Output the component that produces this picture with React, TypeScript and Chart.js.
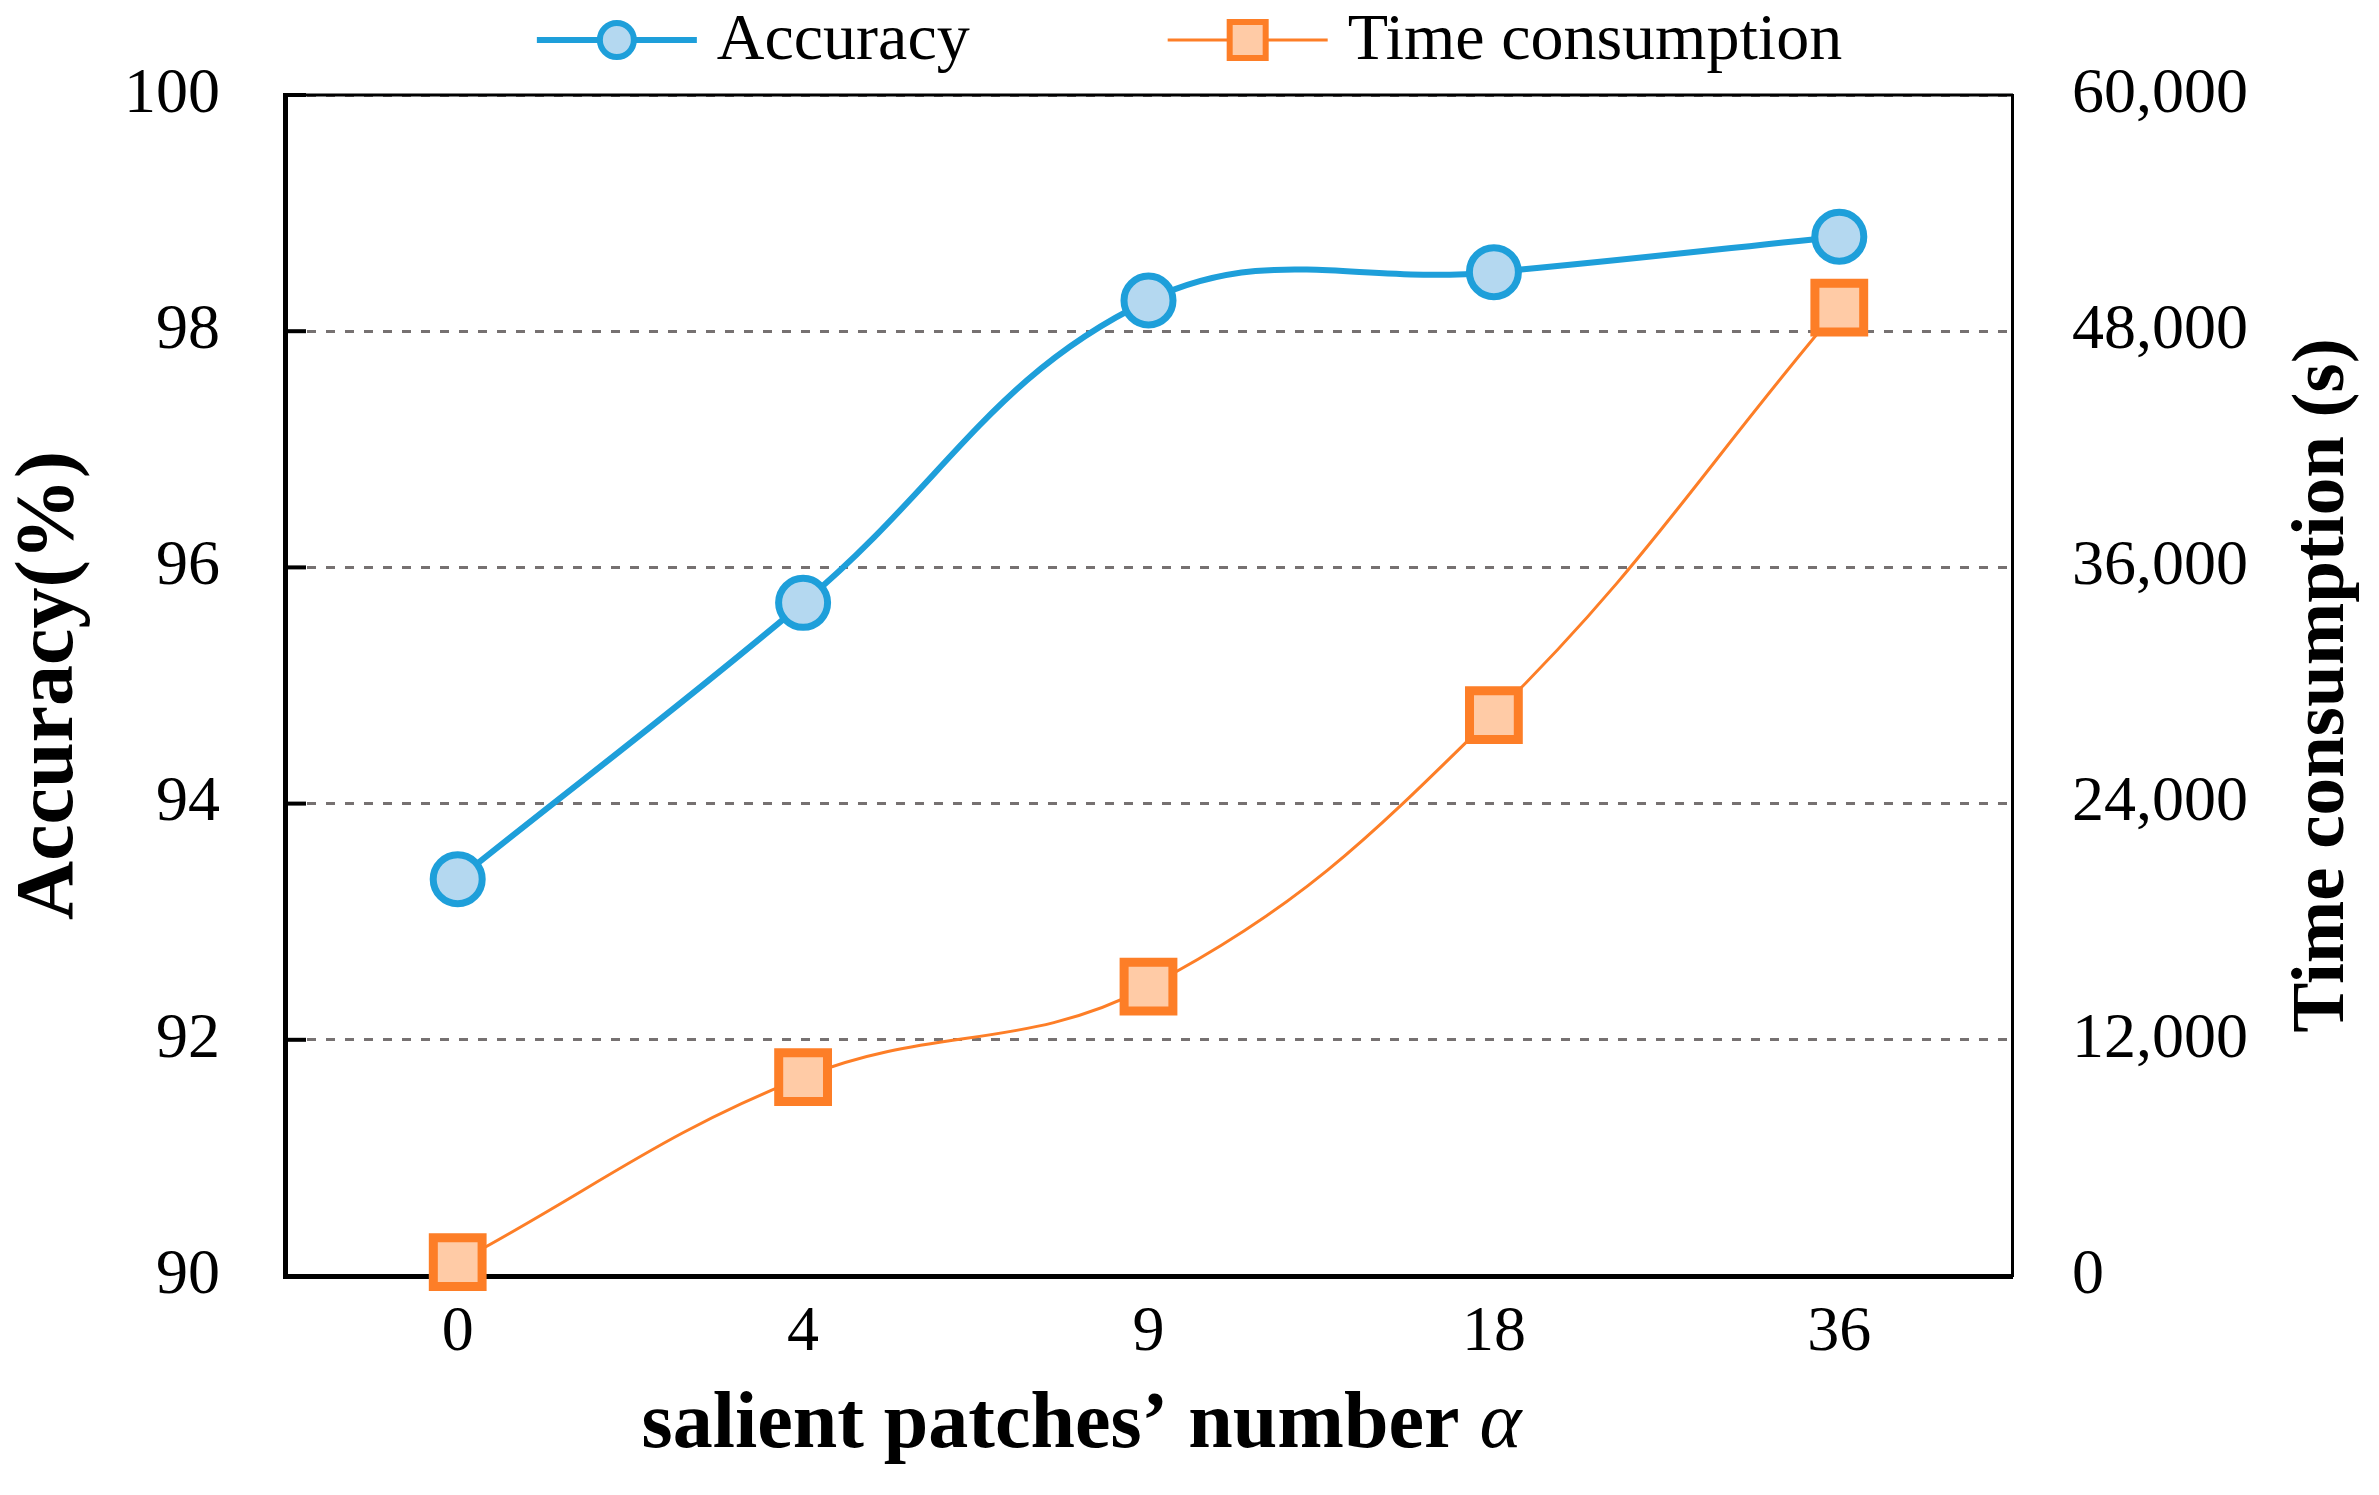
import React, { useEffect, useRef } from 'react';
import { Chart, registerables } from 'chart.js';

Chart.register(...registerables);

// ---- data ----
const categories = ['0', '4', '9', '18', '36'];
const accuracy = [93.36, 95.7, 98.26, 98.5, 98.8];
const timeConsumption = [700, 10100, 14700, 28500, 49200];
const accuracyTicks = [90, 92, 94, 96, 98, 100];
const timeTicks = [0, 12000, 24000, 36000, 48000, 60000];

const seriesNames = ['Accuracy', 'Time consumption'];
const xTitleMain = 'salient patches\u2019 number ';
const xTitleSymbol = '\u03B1';
const yTitle = 'Accuracy(%)';
const y1Title = 'Time consumption (s)';

const W = 2379;
const H = 1495;
const SERIF = '"Liberation Serif", "Times New Roman", Times, serif';

const BLUE = '#1E9FDA';
const BLUE_FILL = '#B4D8F0';
const ORANGE = '#FD7E27';
const ORANGE_FILL = '#FFCBA6';

const decorPlugin = {
  id: 'decor',
  beforeDatasetsDraw(chart: any) {
    const { ctx, chartArea } = chart;
    const ys = chart.scales.y;
    ctx.save();
    // top frame
    ctx.strokeStyle = '#000';
    ctx.lineWidth = 3;
    ctx.beginPath();
    ctx.moveTo(chartArea.left - 2, chartArea.top);
    ctx.lineTo(chartArea.right + 1, chartArea.top);
    ctx.stroke();
    // inner tick marks on left axis
    ctx.lineWidth = 4;
    ys.ticks.forEach((t: any) => {
      if (t.value === ys.min) return;
      const py = ys.getPixelForValue(t.value);
      ctx.beginPath();
      ctx.moveTo(chartArea.left, py);
      ctx.lineTo(chartArea.left + 21, py);
      ctx.stroke();
    });
    ctx.restore();
  },
  afterDraw(chart: any) {
    const { ctx, chartArea } = chart;
    ctx.save();
    ctx.fillStyle = '#000';
    // x title (bold text + italic alpha)
    ctx.textBaseline = 'alphabetic';
    ctx.textAlign = 'left';
    const fMain = `bold 80px ${SERIF}`;
    const fSym = `italic 80px ${SERIF}`;
    ctx.font = fMain;
    const wMain = ctx.measureText(xTitleMain).width;
    ctx.font = fSym;
    const wSym = ctx.measureText(xTitleSymbol).width;
    const cx = (chartArea.left + chartArea.right) / 2 - 67;
    const x0 = cx - (wMain + wSym) / 2;
    ctx.font = fMain;
    ctx.fillText(xTitleMain, x0, 1447);
    ctx.font = fSym;
    ctx.fillText(xTitleSymbol, x0 + wMain, 1447);

    // right title, reading bottom-to-top
    ctx.save();
    ctx.translate(2343, (chartArea.top + chartArea.bottom) / 2);
    ctx.rotate(-Math.PI / 2);
    ctx.font = `bold 75px ${SERIF}`;
    ctx.textAlign = 'center';
    ctx.fillText(y1Title, 0, 0);
    ctx.restore();

    // legend: line + marker + label
    const ds = chart.data.datasets;
    ctx.font = `66px ${SERIF}`;
    const lineLen = 160;
    const gap = 20;
    const itemGap = 198;
    const widths = ds.map((d: any) => ctx.measureText(d.label).width);
    const total =
      widths.reduce((a: number, w: number) => a + lineLen + gap + w, 0) + itemGap * (ds.length - 1);
    let x = (chart.width - total) / 2;
    const y = 40;
    ds.forEach((d: any, i: number) => {
      ctx.strokeStyle = d.borderColor;
      ctx.lineWidth = d.borderWidth;
      ctx.beginPath();
      ctx.moveTo(x, y);
      ctx.lineTo(x + lineLen, y);
      ctx.stroke();
      const mx = x + lineLen / 2;
      ctx.fillStyle = d.pointBackgroundColor;
      ctx.strokeStyle = d.pointBorderColor;
      ctx.lineWidth = 6;
      ctx.beginPath();
      if (d.pointStyle === 'circle') {
        ctx.arc(mx, y, 17, 0, Math.PI * 2);
      } else {
        ctx.rect(mx - 18, y - 18, 36, 36);
      }
      ctx.fill();
      ctx.stroke();
      ctx.fillStyle = '#000';
      ctx.textAlign = 'left';
      ctx.textBaseline = 'middle';
      ctx.fillText(d.label, x + lineLen + gap, y + 2);
      x += lineLen + gap + widths[i] + itemGap;
    });
    ctx.restore();
  },
};

export default function App() {
  const ref = useRef<HTMLCanvasElement | null>(null);

  useEffect(() => {
    if (!ref.current) return;
    const chart = new Chart(ref.current, {
      type: 'line',
      data: {
        labels: categories,
        datasets: [
          {
            label: seriesNames[0],
            data: accuracy,
            yAxisID: 'y',
            borderColor: BLUE,
            borderWidth: 6,
            tension: 0.4,
            pointStyle: 'circle',
            pointRadius: 24.5,
            pointBorderWidth: 7,
            pointBackgroundColor: BLUE_FILL,
            pointBorderColor: BLUE,
            clip: false,
          } as any,
          {
            label: seriesNames[1],
            data: timeConsumption,
            yAxisID: 'y1',
            borderColor: ORANGE,
            borderWidth: 3,
            tension: 0.4,
            pointStyle: 'rect',
            pointRadius: 34.5,
            pointBorderWidth: 9,
            pointBackgroundColor: ORANGE_FILL,
            pointBorderColor: ORANGE,
            clip: false,
          } as any,
        ],
      },
      options: {
        responsive: false,
        animation: false,
        devicePixelRatio: 1,
        layout: { padding: { top: 95, left: 0, right: 0, bottom: 0 } },
        plugins: {
          legend: { display: false },
          tooltip: { enabled: false },
        },
        scales: {
          x: {
            type: 'category',
            offset: true,
            grid: { display: false, drawTicks: false },
            border: { display: true, color: '#000', width: 5 },
            ticks: { font: { family: SERIF, size: 64 }, color: '#000', padding: 19 },
            afterFit: (s: any) => {
              s.height = 219;
            },
          },
          y: {
            position: 'left',
            min: accuracyTicks[0],
            max: accuracyTicks[accuracyTicks.length - 1],
            ticks: {
              stepSize: accuracyTicks[1] - accuracyTicks[0],
              font: { family: SERIF, size: 64 },
              color: '#000',
              padding: 65,
            },
            grid: { color: '#767171', lineWidth: 3, drawTicks: false },
            border: { display: true, color: '#000', width: 5, dash: [9, 10] },
            title: {
              display: true,
              text: yTitle,
              color: '#000',
              font: { family: SERIF, size: 82, weight: 'bold', lineHeight: 1 },
              padding: { top: 10, bottom: 0 },
            },
            afterFit: (s: any) => {
              s.width = 285;
              s.paddingTop = 0;
              s.paddingBottom = 0;
            },
          },
          y1: {
            position: 'right',
            min: timeTicks[0],
            max: timeTicks[timeTicks.length - 1],
            ticks: {
              stepSize: timeTicks[1] - timeTicks[0],
              font: { family: SERIF, size: 64 },
              color: '#000',
              padding: 60,
              callback: (v: any) => Number(v).toLocaleString('en-US'),
            },
            grid: { display: false, drawTicks: false },
            border: { display: true, color: '#000', width: 3 },
            afterFit: (s: any) => {
              s.width = 367;
              s.paddingTop = 0;
              s.paddingBottom = 0;
            },
          },
        },
      } as any,
      plugins: [decorPlugin],
    });
    return () => chart.destroy();
  }, []);

  return (
    <div style={{ position: 'fixed', left: 0, top: 0, width: W, height: H, background: '#fff' }}>
      <canvas ref={ref} width={W} height={H} style={{ width: W, height: H, display: 'block' }} />
    </div>
  );
}
